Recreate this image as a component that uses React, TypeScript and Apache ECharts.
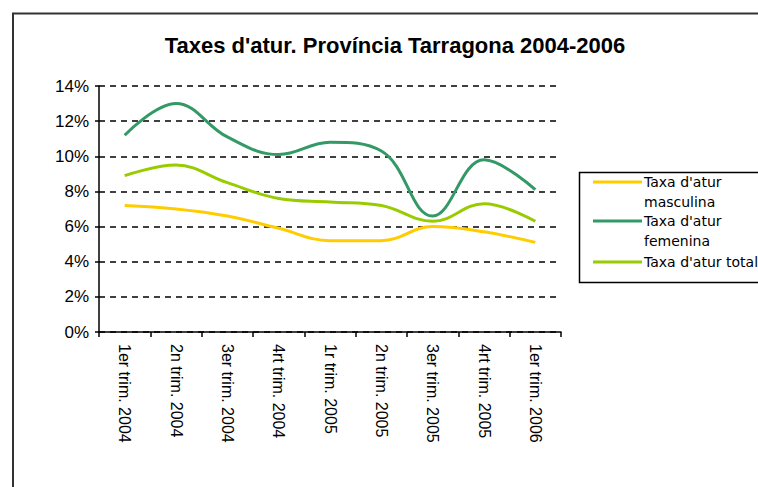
import React, { useEffect, useRef } from "react";
import * as echarts from "echarts";

const titleText = "Taxes d'atur. Província Tarragona 2004-2006";
const categories = [
  "1er trim. 2004",
  "2n trim. 2004",
  "3er trim. 2004",
  "4rt trim. 2004",
  "1r trim. 2005",
  "2n trim. 2005",
  "3er trim. 2005",
  "4rt trim. 2005",
  "1er trim. 2006",
];
const masculina = [7.2, 7.0, 6.6, 5.9, 5.2, 5.2, 6.0, 5.7, 5.1];
const femenina = [11.2, 13.0, 11.1, 10.1, 10.8, 10.3, 6.6, 9.8, 8.1];
const total = [8.9, 9.5, 8.5, 7.6, 7.4, 7.2, 6.3, 7.3, 6.3];
const seriesNames = ["Taxa d'atur masculina", "Taxa d'atur femenina", "Taxa d'atur total"];
const legendLabels = ["Taxa d'atur\nmasculina", "Taxa d'atur\nfemenina", "Taxa d'atur total"];
const seriesColors = ["#FFCC00", "#339966", "#99CC00"];
const yTicks = { min: 0, max: 14, interval: 2 };

const FONT = "'Liberation Sans', Arial, sans-serif";
const LEGEND_FONT = "'DejaVu Sans', sans-serif";

export default function App() {
  const ref = useRef<HTMLDivElement>(null);
  useEffect(() => {
    if (!ref.current) return;
    const chart = echarts.init(ref.current, null, { renderer: "svg" });
    const dataSets = [masculina, femenina, total];
    const legendRows = [182, 221, 262];
    const legendGraphics: any[] = [
      {
        type: "rect",
        shape: { x: 579.5, y: 172.5, width: 240, height: 110 },
        style: { fill: "#fff", stroke: "#000", lineWidth: 1.5 },
        z: 10,
      },
    ];
    legendLabels.forEach((lab, i) => {
      legendGraphics.push({
        type: "line",
        shape: { x1: 593, y1: legendRows[i], x2: 642, y2: legendRows[i] },
        style: { stroke: seriesColors[i], lineWidth: 3 },
        z: 11,
      });
      legendGraphics.push({
        type: "text",
        x: 644,
        y: legendRows[i] - 10,
        style: {
          text: lab,
          fill: "#000",
          font: `14px ${LEGEND_FONT}`,
          lineHeight: 20,
          textVerticalAlign: "top",
        },
        z: 11,
      });
    });
    chart.setOption({
      animation: false,
      backgroundColor: "#fff",
      title: {
        text: titleText,
        left: 390,
        top: 29,
        textAlign: "center",
        textStyle: { fontFamily: FONT, fontWeight: "bold", fontSize: 22, color: "#000" },
      },
      grid: { left: 99, top: 86, right: 197, bottom: 155, containLabel: false },
      xAxis: {
        type: "category",
        data: categories,
        boundaryGap: true,
        axisLine: { lineStyle: { color: "#000", width: 1.5 } },
        axisTick: { show: true, length: 5, alignWithLabel: false, lineStyle: { color: "#000", width: 1.5 } },
        axisLabel: {
          rotate: -90,
          interval: 0,
          margin: 12,
          fontFamily: FONT,
          fontSize: 16,
          color: "#000",
        },
        splitLine: { show: false },
      },
      yAxis: {
        type: "value",
        min: yTicks.min,
        max: yTicks.max,
        interval: yTicks.interval,
        axisLine: { show: true, lineStyle: { color: "#000", width: 1.5 } },
        axisTick: { show: true, length: 4, lineStyle: { color: "#000", width: 1.5 } },
        axisLabel: {
          formatter: "{value}%",
          fontFamily: FONT,
          fontSize: 17,
          color: "#000",
          margin: 10,
        },
        splitLine: { show: true, lineStyle: { color: "#000", type: [6, 5], width: 1.5 } },
      },
      series: dataSets.map((d, i) => ({
        name: seriesNames[i],
        type: "line",
        data: d,
        smooth: 0.4,
        symbol: "none",
        lineStyle: { color: seriesColors[i], width: 3 },
        itemStyle: { color: seriesColors[i] },
      })),
      graphic: [
        {
          type: "polyline",
          shape: { points: [[13, 500], [13, 13.5], [800, 13.5]] },
          style: { stroke: "#333", lineWidth: 2, fill: null },
        },
        ...legendGraphics,
      ],
    });
    return () => chart.dispose();
  }, []);
  return (
    <div
      ref={ref}
      style={{ position: "fixed", left: 0, top: 0, width: 758, height: 487 }}
    />
  );
}
